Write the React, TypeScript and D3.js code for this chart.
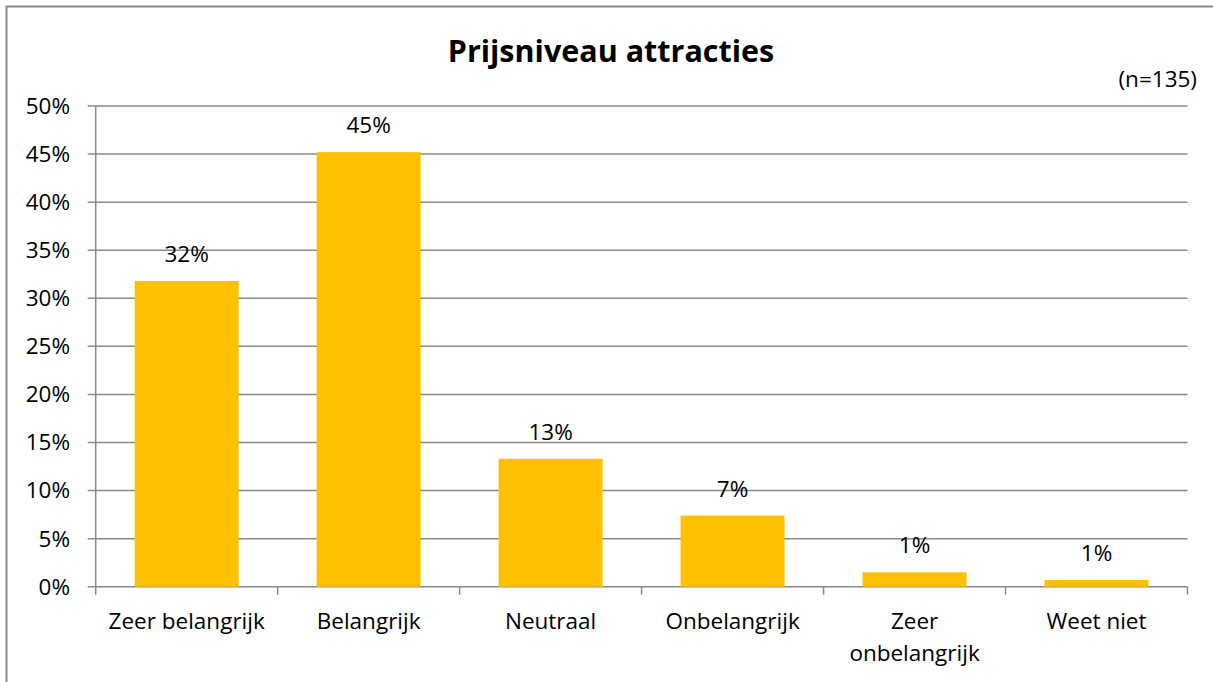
import React, { useRef, useEffect } from 'react';
import * as d3 from 'd3';

const categories = ["Zeer belangrijk", "Belangrijk", "Neutraal", "Onbelangrijk", "Zeer onbelangrijk", "Weet niet"];
const values = [31.8, 45.2, 13.3, 7.4, 1.5, 0.7];
const valueLabels = ["32%", "45%", "13%", "7%", "1%", "1%"];
const yTicks = [0, 5, 10, 15, 20, 25, 30, 35, 40, 45, 50];

const title = "Prijsniveau attracties";
const note = "(n=135)";

function App() {
  const ref = useRef<SVGSVGElement>(null);

  useEffect(() => {
    const svg = d3.select(ref.current);
    svg.selectAll("*").remove();

    const width = 1213;
    const height = 682;
    const font = "'Open Sans', sans-serif";
    const fs = "22.5px";
    const grid = "#8a8a8a";

    const left = 95.7, right = 1187.5, top = 106, bottom = 586.7;

    const x = d3.scaleBand().domain(categories).range([left, right]).paddingInner(0.4286).paddingOuter(0.2143);
    const y = d3.scaleLinear().domain([0, 50]).range([bottom, top]);

    svg.attr("width", width).attr("height", height).style("background", "white");

    // chart frame (only top and left edges are in view)
    svg.append("path")
      .attr("d", `M6.5,${height} V6.5 H${width}`)
      .attr("fill", "none")
      .attr("stroke", grid).attr("stroke-width", 2);

    // gridlines
    svg.append("g").selectAll("line")
      .data(yTicks)
      .enter().append("line")
        .attr("x1", left - 8).attr("x2", right)
        .attr("y1", d => y(d)).attr("y2", d => y(d))
        .attr("stroke", grid).attr("stroke-width", 1.5);

    // y labels
    svg.append("g").selectAll("text")
      .data(yTicks)
      .enter().append("text")
        .attr("x", 70).attr("y", d => y(d))
        .attr("dy", "0.35em")
        .attr("text-anchor", "end")
        .style("font-family", font).style("font-size", fs)
        .text(d => d + "%");

    // bars
    svg.append("g").selectAll("rect")
      .data(values)
      .enter().append("rect")
        .attr("x", (d, i) => x(categories[i])!)
        .attr("width", x.bandwidth())
        .attr("y", d => y(d))
        .attr("height", d => y(0) - y(d))
        .attr("fill", "#FFC000");

    // axis lines
    svg.append("line")
      .attr("x1", left).attr("x2", left).attr("y1", top).attr("y2", bottom + 8)
      .attr("stroke", grid).attr("stroke-width", 1.5);
    const step = x.step();
    svg.append("g").selectAll("line")
      .data(d3.range(1, categories.length + 1))
      .enter().append("line")
        .attr("x1", i => left + i * step).attr("x2", i => left + i * step)
        .attr("y1", bottom).attr("y2", bottom + 8)
        .attr("stroke", grid).attr("stroke-width", 1.5);

    // value labels
    svg.append("g").selectAll("text")
      .data(values)
      .enter().append("text")
        .attr("x", (d, i) => x(categories[i])! + x.bandwidth() / 2)
        .attr("y", d => y(d) - 19)
        .attr("text-anchor", "middle")
        .style("font-family", font).style("font-size", fs)
        .text((d, i) => valueLabels[i]);

    // category labels
    const catLines = categories.map(c => c === "Zeer onbelangrijk" ? ["Zeer", "onbelangrijk"] : [c]);
    const cat = svg.append("g").selectAll("text")
      .data(categories)
      .enter().append("text")
        .attr("x", d => x(d)! + x.bandwidth() / 2)
        .attr("y", 629)
        .attr("text-anchor", "middle")
        .style("font-family", font).style("font-size", fs);
    cat.each(function (d, i) {
      catLines[i].forEach((t, j) => {
        d3.select(this).append("tspan")
          .attr("x", x(d)! + x.bandwidth() / 2)
          .attr("dy", j === 0 ? 0 : 32)
          .text(t);
      });
    });

    svg.append("text")
      .attr("x", 611).attr("y", 62)
      .attr("text-anchor", "middle")
      .style("font-family", font).style("font-size", "30.5px").style("font-weight", "bold")
      .text(title);

    svg.append("text")
      .attr("x", 1197).attr("y", 87)
      .attr("text-anchor", "end")
      .style("font-family", font).style("font-size", fs)
      .text(note);
  }, []);

  return <svg ref={ref} style={{ position: "absolute", left: 0, top: 0, display: "block" }}></svg>;
}

export default App;
